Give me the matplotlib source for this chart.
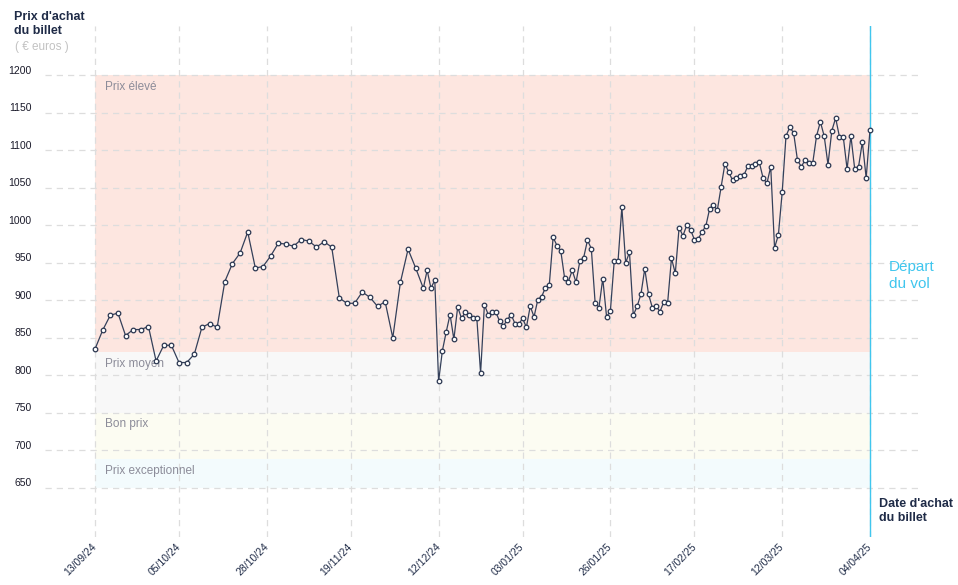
import matplotlib.pyplot as plt
import matplotlib.transforms as mtransforms
import numpy as np
import pandas as pd

plt.rcParams["font.family"] = ["Liberation Sans", "DejaVu Sans"]

# sampling: every 2 days until 08/12/24, then daily up to the flight date
dates_2d = pd.date_range("2024-09-13", "2024-12-08", freq="2D")
dates_1d = pd.date_range("2024-12-09", "2025-04-04", freq="D")

prices_2d = [
    835, 860, 880, 883, 853, 861, 861, 865, 819, 840, 840, 817, 817, 828,
    864, 869, 864, 925, 949, 963, 991, 943, 945, 959, 976, 975, 972, 981,
    979, 971, 978, 971, 903, 896, 896, 911, 904, 892, 898, 850, 924, 968,
    943, 916,
]
prices_1d = [
    940, 916, 927, 792, 833, 858, 881, 848, 891, 876, 884, 881, 876, 877,
    803, 894, 881, 884, 884, 872, 866, 874, 881, 869, 868, 876, 864, 892,
    878, 901, 905, 917, 921, 984, 973, 966, 930, 925, 940, 924, 952, 957,
    980, 969, 897, 890, 929, 878, 886, 952, 952, 1024, 950, 964, 880, 892,
    908, 942, 908, 890, 892, 885, 898, 897, 956, 936, 997, 986, 1000, 994,
    981, 982, 991, 999, 1022, 1027, 1020, 1051, 1082, 1071, 1060, 1063, 1066,
    1067, 1079, 1079, 1082, 1084, 1063, 1056, 1078, 970, 987, 1044, 1119,
    1131, 1123, 1087, 1078, 1087, 1083, 1083, 1119, 1138, 1119, 1081, 1126,
    1143, 1118, 1118, 1075, 1119, 1075, 1078, 1111, 1063, 1127,
]

band_names = ["Prix élevé", "Prix moyen", "Bon prix", "Prix exceptionnel"]
band_top = [1200, 831, 750, 688]
band_bottom = [831, 750, 688, 650]
band_colors = ["#fde6e0", "#f8f8f8", "#fcfcf2", "#f3fbfd"]

tick_dates = pd.to_datetime([
    "2024-09-13", "2024-10-05", "2024-10-28", "2024-11-19", "2024-12-12",
    "2025-01-03", "2025-01-26", "2025-02-17", "2025-03-12", "2025-04-04",
])
y_ticks = [650, 700, 750, 800, 850, 900, 950, 1000, 1050, 1100, 1150, 1200]

NAVY = "#1f2b47"
CYAN = "#40c6ee"


def main() -> None:
    dates = dates_2d.append(dates_1d)
    prices = np.array(prices_2d + prices_1d, dtype=float)
    start, end = dates[0], dates[-1]

    W, H = 958, 585
    fig = plt.figure(figsize=(W / 100, H / 100), dpi=100)
    ax = fig.add_axes([45 / W, 48 / H, 875 / W, 511 / H])

    for name, top, bot, col in zip(band_names, band_top, band_bottom, band_colors):
        ax.fill_between([start, end], bot, top, color=col, lw=0, zorder=0)
        ax.annotate(name, (start, top), xytext=(7.5, -4), textcoords="offset points",
                    ha="left", va="top", fontsize=8.5, color="#8c8c99", zorder=3)

    ax.set_xticks(tick_dates)
    ax.set_xticklabels([d.strftime("%d/%m/%y") for d in tick_dates],
                       rotation=45, ha="right", va="center", rotation_mode="anchor",
                       fontsize=7.5, color=NAVY)
    ax.set_yticks(y_ticks)
    ax.set_yticklabels([str(v) for v in y_ticks], fontsize=7.5, color="#1a1a2a")
    ax.tick_params(axis="both", length=0)
    ax.tick_params(axis="y", pad=9.5)
    ax.tick_params(axis="x", pad=6)
    shift = mtransforms.ScaledTranslation(0, 4 / 72, fig.dpi_scale_trans)
    for lab in ax.get_yticklabels():
        lab.set_transform(lab.get_transform() + shift)

    ax.grid(True, linestyle=(0, (5, 4)), linewidth=0.9, color="#dddddd", zorder=1)
    ax.set_axisbelow(False)
    for s in ax.spines.values():
        s.set_visible(False)

    ax.axvline(end, color=CYAN, lw=1.0, zorder=3.5)

    ax.plot(dates, prices, color="#34405a", lw=0.9, marker="o", markersize=3.3,
            markerfacecolor="white", markeredgecolor="#2a3650", markeredgewidth=0.9,
            zorder=4)

    ax.set_xlim(start - pd.Timedelta(days=13.1), start + pd.Timedelta(days=216.1))
    ax.set_ylim(584.4, 1265.7)

    fig.text(14 / W, 1 - 11 / H, "Prix d'achat\ndu billet", ha="left", va="top",
             fontsize=9, fontweight="bold", color=NAVY, linespacing=1.2)
    fig.text(15 / W, 1 - 47 / H, "( € euros )", ha="left", va="center",
             fontsize=8.5, color="#c2c2c2")
    fig.text(879 / W, 1 - 498 / H, "Date d'achat\ndu billet", ha="left", va="top",
             fontsize=9, fontweight="bold", color=NAVY, linespacing=1.2)
    fig.text(889 / W, 1 - 260 / H, "Départ\ndu vol", ha="left", va="top",
             fontsize=11, color=CYAN, linespacing=1.25)

    fig.savefig("out.png", dpi=100)
    plt.close(fig)


if __name__ == "__main__":
    main()
